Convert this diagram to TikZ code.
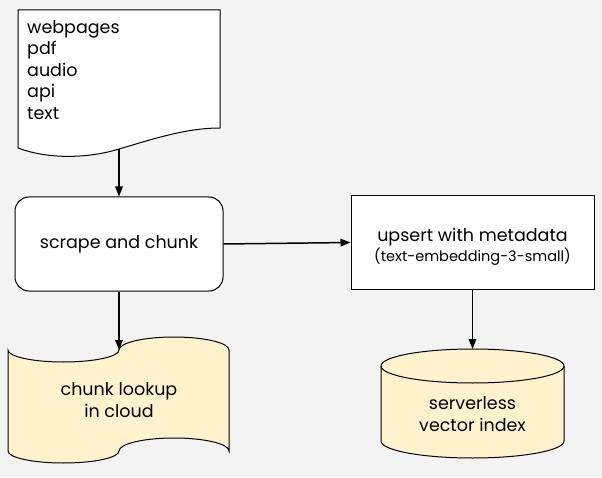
\documentclass[tikz,border=0pt]{standalone}
\usepackage{fontspec}
\setmainfont{Poppins}
\usetikzlibrary{arrows.meta}
\definecolor{canvas}{HTML}{F3F3F3}
\definecolor{storefill}{HTML}{FFF2CC}
\tikzset{
  flowline/.style={-{Triangle[length=10pt,width=7.5pt]},line width=1.5pt},
  boxline/.style={draw=black,line width=1pt},
  boxtext/.style={font=\fontsize{17.5}{21.5}\selectfont,align=center,inner sep=0pt},
}
\begin{document}
\begin{tikzpicture}[x=1pt,y=1pt]
    % Canvas
    \fill[canvas] (0,0) rectangle (602,477);
    \useasboundingbox (0,0) rectangle (602,477);

    % Source documents (page with a wavy foot)
    \draw[boxline,fill=white] (18,467) -- (220,467) -- (220,349)
        .. controls (185,349) and (150,337) .. (119,328)
        .. controls (90,319) and (50,317) .. (18,329) -- cycle;
    \node (docs) at (27,457) [boxtext,anchor=north west,align=left] {webpages\\pdf\\audio\\api\\text};
    \coordinate (docs-foot) at (119,328);

    % Scrape step
    \node (scrape) at (119,233) [boxline,fill=white,rounded corners=14pt,minimum width=208pt,minimum height=94pt,boxtext] {scrape and chunk};

    % Upsert step
    \node (upsert) at (472.5,234.5) [boxline,fill=white,minimum width=243pt,minimum height=93pt,boxtext]
        {\rule{0pt}{22pt}upsert with metadata\\[-1pt]{\fontsize{14.5}{17}\selectfont (text-embedding-3-small)}};

    % Chunk store (punched tape)
    \draw[boxline,fill=storefill] (8,127)
        arc[start angle=180,end angle=360,x radius=55.5,y radius=12]
        arc[start angle=180,end angle=0,x radius=55,y radius=13] -- (229,26)
        arc[start angle=0,end angle=180,x radius=55,y radius=13]
        arc[start angle=0,end angle=-180,x radius=55.5,y radius=12] -- cycle;
    \node (lookup) at (119,77) [boxtext] {chunk lookup\\in cloud};
    \coordinate (lookup-top) at (119,127);

    % Vector index (cylinder)
    \draw[boxline,fill=storefill] (381,111) -- (381,36)
        arc[start angle=180,end angle=360,x radius=91.5,y radius=17] -- (564,111)
        arc[start angle=0,end angle=180,x radius=91.5,y radius=17] -- cycle;
    \draw[boxline] (381,111) arc[start angle=180,end angle=360,x radius=91.5,y radius=17];
    \node (vindex) at (472.5,63) [boxtext] {serverless\\vector index};
    \coordinate (vindex-top) at (472.5,128);

    % Flow
    \draw[flowline] (docs-foot) -- (scrape.north);
    \draw[flowline] (scrape.south) -- (lookup-top);
    \draw[flowline] (scrape.east) -- (upsert.west);
    \draw[flowline] (upsert.south) -- (vindex-top);
\end{tikzpicture}
\end{document}
